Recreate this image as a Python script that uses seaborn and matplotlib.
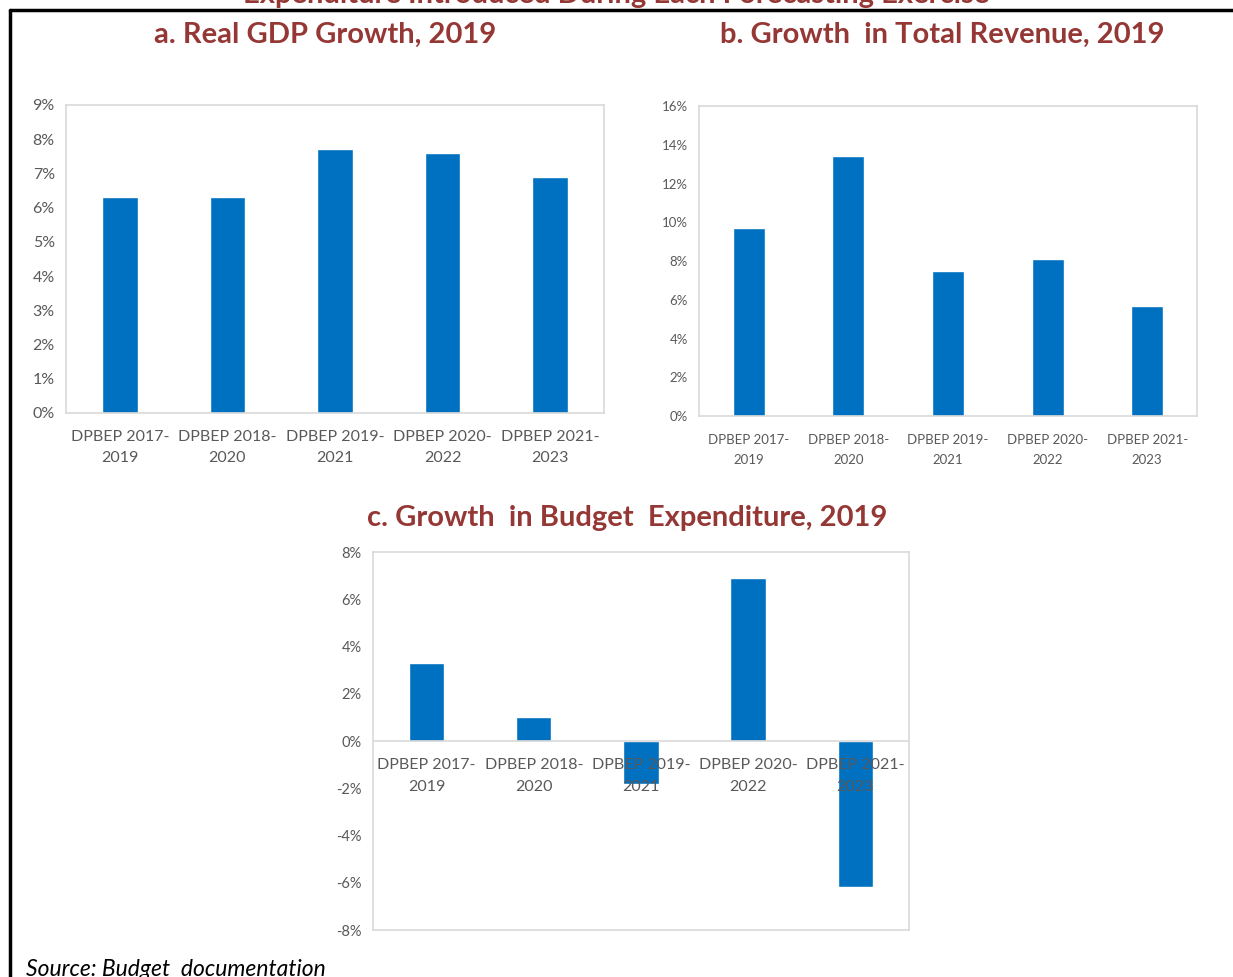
import matplotlib
matplotlib.use("Agg")
import matplotlib.pyplot as plt
import matplotlib.ticker as mticker
from matplotlib.lines import Line2D
import seaborn as sns
import pandas as pd

categories = ["DPBEP 2017-\n2019", "DPBEP 2018-\n2020", "DPBEP 2019-\n2021",
              "DPBEP 2020-\n2022", "DPBEP 2021-\n2023"]
gdp_growth = [6.3, 6.3, 7.7, 7.6, 6.9]
revenue_growth = [9.7, 13.4, 7.5, 8.1, 5.7]
expenditure_growth = [3.3, 1.0, -1.8, 6.9, -6.2]

title_a = "a. Real GDP Growth, 2019"
title_b = "b. Growth  in Total Revenue, 2019"
title_c = "c. Growth  in Budget  Expenditure, 2019"
top_title = "Expenditure Introduced During Each Forecasting Exercise"
source = "Source: Budget  documentation"

sns.set_theme(style="white")
plt.rcParams['font.family'] = ['Lato', 'DejaVu Sans']

BAR = "#0070C0"
TITLE = "#953735"
TICK = "#595959"
SPINE = "#D9D9D9"

fig = plt.figure(figsize=(12.33, 9.77), dpi=100)

def style(ax, ylim, step, fs):
    ax.set_ylim(*ylim)
    ax.yaxis.set_major_locator(mticker.MultipleLocator(step))
    ax.yaxis.set_major_formatter(mticker.FuncFormatter(lambda v, p: f"{v:.0f}%"))
    ax.set_xlabel("")
    ax.set_ylabel("")
    for s in ax.spines.values():
        s.set_color(SPINE)
        s.set_linewidth(1.2)
        s.set_visible(True)
    ax.tick_params(axis='both', length=0, colors=TICK, labelsize=fs, pad=8)
    ax.grid(False)

# Panel a
ax_a = fig.add_axes([0.0535, 0.5773, 0.4363, 0.3153])
sns.barplot(x=categories, y=gdp_growth, color=BAR, width=0.33, saturation=1, ax=ax_a)
style(ax_a, (0, 9), 1, 11.5)
ax_a.tick_params(axis='x', pad=12)

# Panel b
ax_b = fig.add_axes([0.5669, 0.5742, 0.4039, 0.3173])
sns.barplot(x=categories, y=revenue_growth, color=BAR, width=0.32, saturation=1, ax=ax_b)
style(ax_b, (0, 16), 2, 9.5)
ax_b.tick_params(axis='x', pad=13)

# Panel c
ax_c = fig.add_axes([0.3025, 0.0481, 0.4347, 0.3869])
sns.barplot(x=categories, y=expenditure_growth, color=BAR, width=0.33, saturation=1, ax=ax_c)
style(ax_c, (-8, 8), 2, 10.5)
ax_c.axhline(0, color=SPINE, lw=1.2, zorder=3)
ax_c.set_xticks(range(len(categories)))
ax_c.set_xticklabels([])
for i, lab in enumerate(categories):
    ax_c.annotate(lab, xy=(i, 0), xytext=(0, -12.5), textcoords='offset points',
                  ha='center', va='top', fontsize=11.5, color=TICK, zorder=5,
                  linespacing=1.7)

for t in ax_a.get_xticklabels():
    t.set_linespacing(1.7)
for t in ax_b.get_xticklabels():
    t.set_linespacing(1.75)

fig.text(0.2636, 0.964, title_a, ha='center', va='center', fontsize=21,
         fontweight='bold', color=TITLE)
fig.text(0.764, 0.964, title_b, ha='center', va='center', fontsize=21,
         fontweight='bold', color=TITLE)
fig.text(0.5085, 0.470, title_c, ha='center', va='center', fontsize=21,
         fontweight='bold', color=TITLE)
fig.text(0.5, 1.0055, top_title, ha='center', va='center', fontsize=21,
         fontweight='bold', color=TITLE)
fig.text(0.021, 0.008, source, ha='left', va='center', fontsize=16.5,
         style='italic', color='black')

# outer frame (top and left)
fig.add_artist(Line2D([0.0085, 1.0], [0.9895, 0.9895], color='black', lw=2.5,
                      transform=fig.transFigure))
fig.add_artist(Line2D([0.0085, 0.0085], [0.0, 0.9895], color='black', lw=2.5,
                      transform=fig.transFigure))

fig.savefig("out.png", dpi=100)
